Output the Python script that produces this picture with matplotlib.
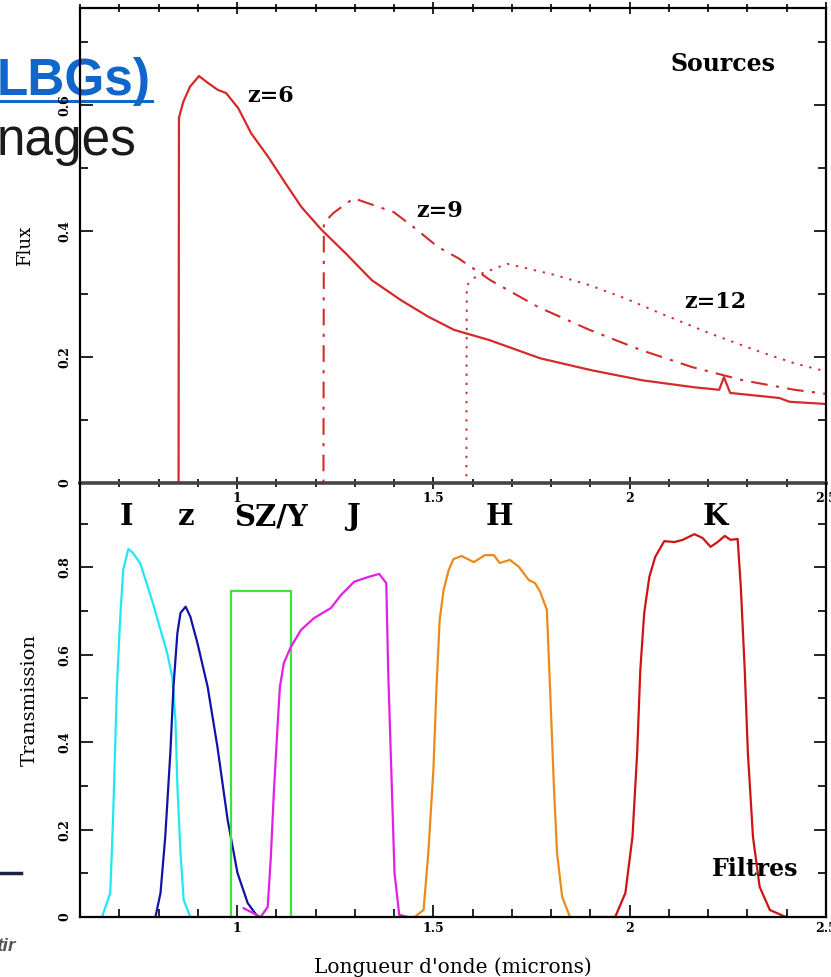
import numpy as np
import matplotlib
matplotlib.use("Agg")
import matplotlib.pyplot as plt
from matplotlib.ticker import MultipleLocator, FixedLocator

# ── data ──────────────────────────────────────────────────────────────────────
# sources: flux vs wavelength (microns)
z6_wl = [0.60, 0.851, 0.852, 0.863, 0.880, 0.903, 0.926, 0.951, 0.972, 1.003,
         1.036, 1.079, 1.123, 1.164, 1.215, 1.276, 1.343, 1.418, 1.487, 1.553,
         1.642, 1.772, 1.903, 2.033, 2.164, 2.228, 2.240, 2.256, 2.381, 2.407, 2.512]
z6_flux = [0.0, 0.0, 0.58, 0.605, 0.629, 0.646, 0.635, 0.624, 0.619, 0.595,
           0.555, 0.518, 0.476, 0.438, 0.402, 0.365, 0.322, 0.290, 0.264, 0.243,
           0.227, 0.198, 0.179, 0.163, 0.152, 0.148, 0.168, 0.143, 0.135, 0.129, 0.125]

z9_wl = [0.60, 1.220, 1.221, 1.246, 1.297, 1.348, 1.399, 1.450, 1.511, 1.563,
         1.645, 1.768, 1.898, 2.029, 2.159, 2.289, 2.420, 2.507]
z9_flux = [0.0, 0.0, 0.413, 0.429, 0.452, 0.441, 0.430, 0.406, 0.375, 0.357,
           0.322, 0.279, 0.243, 0.211, 0.184, 0.163, 0.148, 0.141]

z12_wl = [0.60, 1.584, 1.585, 1.612, 1.688, 1.811, 1.898, 1.985, 2.072, 2.202,
          2.333, 2.420, 2.507]
z12_flux = [0.0, 0.0, 0.314, 0.330, 0.348, 0.330, 0.314, 0.294, 0.271, 0.238,
            0.208, 0.190, 0.176]

# filters: transmission vs wavelength (microns)
I_wl = [0.656, 0.677, 0.684, 0.694, 0.702, 0.710, 0.723, 0.733, 0.753, 0.771,
        0.787, 0.805, 0.822, 0.835, 0.843, 0.848, 0.856, 0.864, 0.881]
I_tr = [0.0, 0.055, 0.222, 0.527, 0.680, 0.794, 0.842, 0.835, 0.810, 0.760,
        0.714, 0.657, 0.604, 0.549, 0.451, 0.298, 0.146, 0.039, 0.0]

zf_wl = [0.792, 0.805, 0.817, 0.830, 0.838, 0.848, 0.856, 0.869, 0.881, 0.899,
         0.925, 0.950, 0.976, 1.001, 1.027, 1.053]
zf_tr = [0.0, 0.055, 0.183, 0.375, 0.527, 0.650, 0.696, 0.710, 0.687, 0.627,
         0.527, 0.389, 0.222, 0.101, 0.032, 0.0]

Y_wl = [0.912, 0.984, 0.984, 1.137, 1.137, 1.21]
Y_tr = [0.0, 0.0, 0.746, 0.746, 0.0, 0.0]

J_wl = [1.017, 1.060, 1.078, 1.086, 1.094, 1.103, 1.109, 1.119, 1.137, 1.163,
        1.196, 1.239, 1.265, 1.298, 1.334, 1.362, 1.380, 1.385, 1.393, 1.401,
        1.413, 1.436, 1.493]
J_tr = [0.02, 0.0, 0.023, 0.137, 0.291, 0.435, 0.526, 0.581, 0.618, 0.657,
        0.684, 0.707, 0.737, 0.767, 0.778, 0.785, 0.764, 0.558, 0.330, 0.101,
        0.005, 0.0, 0.0]

H_wl = [1.452, 1.475, 1.487, 1.500, 1.508, 1.516, 1.526, 1.539, 1.551, 1.572,
        1.603, 1.631, 1.654, 1.669, 1.695, 1.718, 1.743, 1.759, 1.772, 1.789,
        1.797, 1.807, 1.815, 1.828, 1.848]
H_tr = [0.0, 0.016, 0.146, 0.336, 0.527, 0.680, 0.748, 0.794, 0.819, 0.826,
        0.812, 0.828, 0.828, 0.810, 0.817, 0.801, 0.771, 0.764, 0.744, 0.703,
        0.527, 0.298, 0.146, 0.046, 0.0]

K_wl = [1.904, 1.963, 1.989, 2.007, 2.019, 2.027, 2.037, 2.050, 2.065, 2.088,
        2.114, 2.135, 2.165, 2.186, 2.206, 2.224, 2.242, 2.257, 2.275, 2.283,
        2.293, 2.301, 2.314, 2.331, 2.357, 2.398]
K_tr = [0.0, 0.0, 0.055, 0.183, 0.375, 0.565, 0.696, 0.778, 0.824, 0.860,
        0.858, 0.863, 0.876, 0.867, 0.847, 0.858, 0.872, 0.863, 0.865, 0.755,
        0.565, 0.375, 0.183, 0.069, 0.016, 0.0]

filter_names = ["I", "z", "SZ/Y", "J", "H", "K"]
filter_label_x = [0.718, 0.870, 1.087, 1.295, 1.668, 2.218]

# ── figure ────────────────────────────────────────────────────────────────────
SERIF = "DejaVu Serif"
RED = "#d42a2a"

fig = plt.figure(figsize=(8.31, 9.77), dpi=100)
ax1 = fig.add_axes([0.0963, 0.5056, 0.8977, 0.4862])
ax2 = fig.add_axes([0.0963, 0.0614, 0.8977, 0.4442])

# slide fragments behind the chart
fig.text(-0.004, 0.903, "LBGs)", color="#1166cc", fontsize=37, fontweight="bold",
         family="Liberation Sans", ha="left", va="baseline", zorder=-1)
fig.add_artist(plt.Line2D([0.0, 0.183], [0.897, 0.897], color="#1166cc", lw=2.2, zorder=-1))
fig.text(-0.004, 0.841, "nages", color="#1a1a1a", fontsize=37,
         family="Liberation Sans", ha="left", va="baseline", zorder=-1)
fig.add_artist(plt.Line2D([0.0, 0.025], [0.106, 0.106], color="#1c2340", lw=2.5))
fig.text(-0.004, 0.027, "tir", color="#555555", fontsize=14, fontweight="bold",
         style="italic", family="Liberation Sans", ha="left", va="baseline")

for ax in (ax1, ax2):
    ax.set_facecolor("none")
    ax.set_xlim(0.6, 2.5)
    ax.xaxis.set_major_locator(FixedLocator([1.0, 1.5, 2.0, 2.5]))
    ax.xaxis.set_minor_locator(MultipleLocator(0.1))
    ax.yaxis.set_major_locator(MultipleLocator(0.2))
    ax.yaxis.set_minor_locator(MultipleLocator(0.1))
    ax.tick_params(which="both", direction="in", top=True, right=True,
                   width=1.2, labelsize=9)
    ax.tick_params(which="major", length=9)
    ax.tick_params(which="minor", length=6)
    ax.tick_params(axis="y", pad=6)
    for s in ax.spines.values():
        s.set_linewidth(1.6)
    for lab in ax.get_xticklabels() + ax.get_yticklabels():
        lab.set_family(SERIF)
        lab.set_fontweight("bold")
    ax.xaxis.set_major_formatter(plt.FuncFormatter(lambda v, p: f"{v:g}"))
    ax.yaxis.set_major_formatter(plt.FuncFormatter(lambda v, p: f"{v:g}"))
    for lab in ax.get_yticklabels():
        lab.set_rotation(90)
        lab.set_va("center")

# top panel: sources
ax1.plot(z6_wl, z6_flux, color=RED, lw=1.6)
ax1.plot(z9_wl, z9_flux, color=RED, lw=1.5, linestyle=(0, (8, 4, 1.5, 4)))
ax1.plot(z12_wl, z12_flux, color=RED, lw=1.4, linestyle=(0, (1.2, 3.5)))
ax1.set_ylim(0, 0.754)
ax1.spines["bottom"].set_linewidth(2.6)
ax1.spines["bottom"].set_color("#444444")
ax1.tick_params(axis="x", pad=2)
ax1.tick_params(axis="x", which="both", bottom=True, direction="inout")
ax1.set_ylabel("Flux", family=SERIF, fontsize=13, labelpad=18)

ax1.text(1.027, 0.615, "z=6", family=SERIF, fontweight="bold", fontsize=16, ha="left", va="center")
ax1.text(1.457, 0.432, "z=9", family=SERIF, fontweight="bold", fontsize=16, ha="left", va="center")
ax1.text(2.14, 0.287, "z=12", family=SERIF, fontweight="bold", fontsize=16, ha="left", va="center")
ax1.text(2.105, 0.665, "Sources", family=SERIF, fontweight="bold", fontsize=17, ha="left", va="center")

# bottom panel: filters
ax2.plot(I_wl, I_tr, color="#22e6f2", lw=1.6)
ax2.plot(zf_wl, zf_tr, color="#1212a8", lw=1.6)
ax2.plot(Y_wl, Y_tr, color="#3ee03e", lw=1.6)
ax2.plot(J_wl, J_tr, color="#e41ee4", lw=1.6)
ax2.plot(H_wl, H_tr, color="#ea8a1c", lw=1.6)
ax2.plot(K_wl, K_tr, color="#cc1414", lw=1.6)
ax2.set_ylim(0, 0.993)
ax2.spines["top"].set_visible(False)
ax2.tick_params(axis="x", which="both", top=False)
ax2.set_ylabel("Transmission", family=SERIF, fontsize=14, labelpad=14)
ax2.set_xlabel("Longueur d'onde (microns)", family=SERIF, fontsize=14.5, labelpad=16)

for name, xl in zip(filter_names, filter_label_x):
    ax2.text(xl, 0.916, name, family=SERIF, fontweight="bold", fontsize=21,
             ha="center", va="center")
ax2.text(2.21, 0.11, "Filtres", family=SERIF, fontweight="bold", fontsize=17,
         ha="left", va="center")

fig.savefig("out.png", dpi=100)
